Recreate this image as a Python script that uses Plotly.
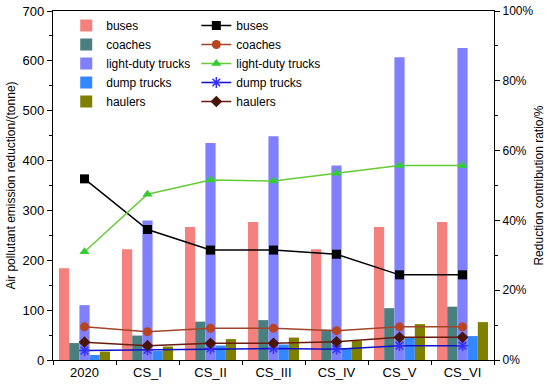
import plotly.graph_objects as go

categories = ["2020", "CS_I", "CS_II", "CS_III", "CS_IV", "CS_V", "CS_VI"]

# emission reduction (tonne) - bars
bus_bar = [184, 222, 267, 277, 222, 267, 277]
coach_bar = [34, 49, 77, 80, 61, 104, 107]
ldt_bar = [110, 280, 435, 449, 390, 607, 626]
dump_bar = [10, 18, 29, 31, 23, 45, 48]
hauler_bar = [17, 27, 42, 45, 39, 72, 76]

# contribution ratio (%) - lines
bus_ratio = [51.9, 37.4, 31.5, 31.5, 30.3, 24.4, 24.4]
coach_ratio = [9.5, 8.1, 9.1, 9.1, 8.4, 9.5, 9.5]
ldt_ratio = [31.0, 47.5, 51.6, 51.3, 53.5, 55.7, 55.7]
dump_ratio = [2.7, 2.9, 3.3, 3.3, 3.1, 4.1, 4.1]
hauler_ratio = [5.1, 4.1, 4.8, 4.8, 5.2, 6.5, 6.5]

bar_names = ["buses", "coaches", "light-duty trucks", "dump trucks", "haulers"]
bar_colors = ["#F4817D", "#4A7F7F", "#8080FF", "#3388FF", "#808000"]
bar_data = [bus_bar, coach_bar, ldt_bar, dump_bar, hauler_bar]

line_data = [bus_ratio, coach_ratio, ldt_ratio, dump_ratio, hauler_ratio]
line_colors = ["#000000", "#A0452A", "#66CC33", "#1010CC", "#6A1A10"]
marker_colors = ["#000000", "#B84420", "#33CC33", "#3030FF", "#4A1408"]
marker_symbols = ["square", "circle", "triangle-up", "asterisk", "diamond"]

fig = go.Figure()
for name, col, vals in zip(bar_names, bar_colors, bar_data):
    fig.add_trace(go.Bar(x=categories, y=vals, name=name, marker_color=col,
                         marker_line_width=0, legend="legend"))

for name, lc, mc, sym, vals in zip(bar_names, line_colors, marker_colors, marker_symbols, line_data):
    mk = dict(symbol=sym, size=9, color=mc)
    if sym == "asterisk":
        mk = dict(symbol="asterisk", size=9, color=mc, line=dict(color=mc, width=1.5))
    fig.add_trace(go.Scatter(x=categories, y=vals, name=name, yaxis="y2",
                             mode="lines+markers", line=dict(color=lc, width=1.5),
                             marker=mk, legend="legend2"))

font_family = "Liberation Sans, Arial, sans-serif"
fig.update_layout(
    width=550, height=385,
    margin=dict(l=53, r=56, t=11, b=25, autoexpand=False),
    paper_bgcolor="white", plot_bgcolor="white",
    font=dict(family=font_family, size=13, color="black"),
    barmode="group", bargap=0.19, bargroupgap=0,
    showlegend=True,
    legend=dict(x=0.03, y=1.0, xanchor="left", yanchor="top",
                bgcolor="rgba(0,0,0,0)", font=dict(size=12), tracegroupgap=0,
                itemwidth=30),
    legend2=dict(x=0.325, y=1.0, xanchor="left", yanchor="top",
                 bgcolor="rgba(0,0,0,0)", font=dict(size=12), itemwidth=30),
    xaxis=dict(type="category", range=[-0.5, 6.5], showline=True, linecolor="black",
               linewidth=1.2, mirror=True, ticks="outside", tickson="boundaries",
               ticklen=4, tickcolor="black", showgrid=False, tickfont=dict(size=13),
               automargin=False),
    yaxis=dict(range=[0, 700], dtick=100, showline=True, linecolor="black", linewidth=1.2,
               ticks="outside", ticklen=5, tickcolor="black", showgrid=False, zeroline=False,
               minor=dict(dtick=50, ticks="outside", ticklen=3, tickcolor="black"),
               title=dict(text="Air pollutant emission reduction/(tonne)", font=dict(size=12),
                          standoff=4),
               tickfont=dict(size=13), automargin=False),
    yaxis2=dict(range=[0, 100], dtick=20, overlaying="y", side="right", showline=True,
                linecolor="black", linewidth=1.2, ticks="outside", ticklen=5,
                tickcolor="black", showgrid=False, zeroline=False, ticksuffix="%",
                minor=dict(dtick=10, ticks="outside", ticklen=3, tickcolor="black"),
                title=dict(text="Reduction contribution ratio/%", font=dict(size=12),
                           standoff=2),
                tickfont=dict(size=12), automargin=False),
)

fig.write_html("out.html", config={"displayModeBar": False})

# remove the browser's default page margin so the figure sits at the top-left corner
with open("out.html", "r", encoding="utf-8") as f:
    html = f.read()
html = html.replace("<body>", '<body style="margin:0;padding:0;">', 1)
with open("out.html", "w", encoding="utf-8") as f:
    f.write(html)
